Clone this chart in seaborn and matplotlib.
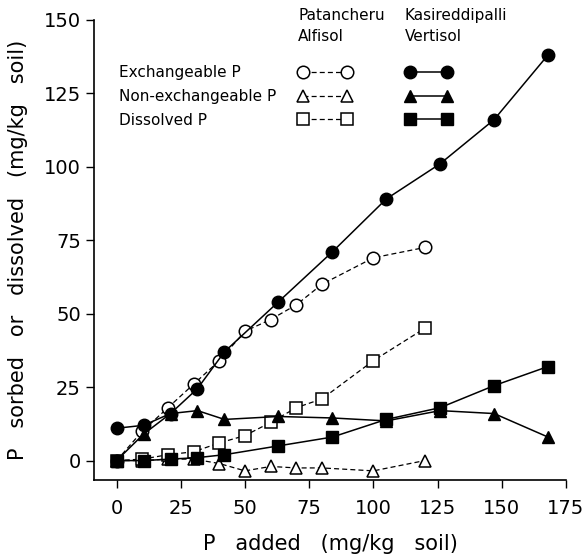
import numpy as np
import pandas as pd
import seaborn as sns
import matplotlib.pyplot as plt
from matplotlib.lines import Line2D

# Patancheru Alfisol
alf_x = [0, 10, 20, 30, 40, 50, 60, 70, 80, 100, 120]
alf_exch = [0, 10, 18, 26, 34, 44, 48, 53, 60, 69, 72.5]
alf_nonex = [0, 0, 0.5, 0.5, -1, -3.5, -2, -2.5, -2.5, -3.5, 0]
alf_diss = [0, 0.5, 2, 3, 6, 8.5, 13, 18, 21, 34, 45]

# Kasireddipalli Vertisol
vert_x = [0, 10.5, 21, 31.5, 42, 63, 84, 105, 126, 147, 168]
vert_exch = [11, 12, 16, 24.5, 37, 54, 71, 89, 101, 116, 138]
vert_nonex = [0, 9, 16, 17, 14, 15, 14.5, 13.5, 17, 16, 8]
vert_diss = [0, 0, 0.5, 1, 2, 5, 8, 14, 18, 25.5, 32]

row_labels = ["Exchangeable P", "Non-exchangeable P", "Dissolved P"]
markers = ["o", "^", "s"]
msizes = [9, 9, 8]

sns.set_style("ticks")
plt.rcParams["font.family"] = ["DejaVu Sans"]
plt.rcParams["text.color"] = "black"
plt.rcParams["axes.labelcolor"] = "black"

fig = plt.figure(figsize=(5.85, 5.6), dpi=100)
ax = fig.add_axes([0.1607, 0.1429, 0.8068, 0.8219])

alf_series = [alf_exch, alf_nonex, alf_diss]
vert_series = [vert_exch, vert_nonex, vert_diss]
dash = (0, (4, 2.5))

# open symbols, dashed lines (Alfisol)
for y, m, ms in zip(alf_series, markers, msizes):
    sns.lineplot(x=alf_x, y=y, ax=ax, color="black", linestyle=dash,
                 linewidth=0.9, marker=m, markersize=ms, markerfacecolor="white",
                 markeredgecolor="black", markeredgewidth=1.1, zorder=3)

# filled symbols, solid lines (Vertisol)
for y, m, ms in zip(vert_series, markers, msizes):
    sns.lineplot(x=vert_x, y=y, ax=ax, color="black", linestyle="-",
                 linewidth=1.1, marker=m, markersize=ms, markerfacecolor="black",
                 markeredgecolor="black", markeredgewidth=1.0, zorder=4)

ax.set_xlim(-8.8, 175)
ax.set_ylim(-6.6, 150)
ax.set_xticks([0, 25, 50, 75, 100, 125, 150, 175])
ax.set_yticks([0, 25, 50, 75, 100, 125, 150])
ax.tick_params(axis="both", direction="out", length=6, width=1, labelsize=14,
               color="black", labelcolor="black")
ax.tick_params(axis="x", pad=8)
for s in ["left", "bottom"]:
    ax.spines[s].set_linewidth(1.2)
    ax.spines[s].set_color("black")
sns.despine(ax=ax)

ax.set_xlabel("P   added   (mg/kg   soil)", fontsize=15, labelpad=11)
ax.set_ylabel("P   sorbed   or   dissolved   (mg/kg   soil)", fontsize=15, labelpad=11)

# legend built from proxy handles
alf_handles = [Line2D([], [], color="black", linestyle=dash, linewidth=0.9,
                      marker=m, markersize=ms, markerfacecolor="white",
                      markeredgecolor="black", markeredgewidth=1.1)
               for m, ms in zip(markers, msizes)]
vert_handles = [Line2D([], [], color="black", linestyle="-", linewidth=1.1,
                       marker=m, markersize=ms, markerfacecolor="black",
                       markeredgecolor="black")
                for m, ms in zip(markers, msizes)]
blank = [Line2D([], [], linestyle="none") for _ in row_labels]

top = 1 - 65 / 560
common = dict(bbox_transform=fig.transFigure, frameon=False, fontsize=11,
              borderpad=0, borderaxespad=0, labelspacing=0.58)

leg0 = ax.legend(blank, row_labels, loc="upper left", bbox_to_anchor=(119 / 585, top),
                 handlelength=0, handletextpad=0, **common)
ax.add_artist(leg0)
leg1 = ax.legend(alf_handles, [" "] * 3, loc="upper left", bbox_to_anchor=(298 / 585, top),
                 numpoints=2, handlelength=3.48, handletextpad=0, **common)
ax.add_artist(leg1)
ax.legend(vert_handles, [" "] * 3, loc="upper left", bbox_to_anchor=(405 / 585, top),
          numpoints=2, handlelength=3.02, handletextpad=0, **common)

fig.text(298 / 585, 1 - 8 / 560, "Patancheru\nAlfisol", fontsize=11,
         va="top", ha="left", linespacing=1.5)
fig.text(405 / 585, 1 - 8 / 560, "Kasireddipalli\nVertisol", fontsize=11,
         va="top", ha="left", linespacing=1.5)

fig.savefig("out.png", dpi=100, facecolor="white")
